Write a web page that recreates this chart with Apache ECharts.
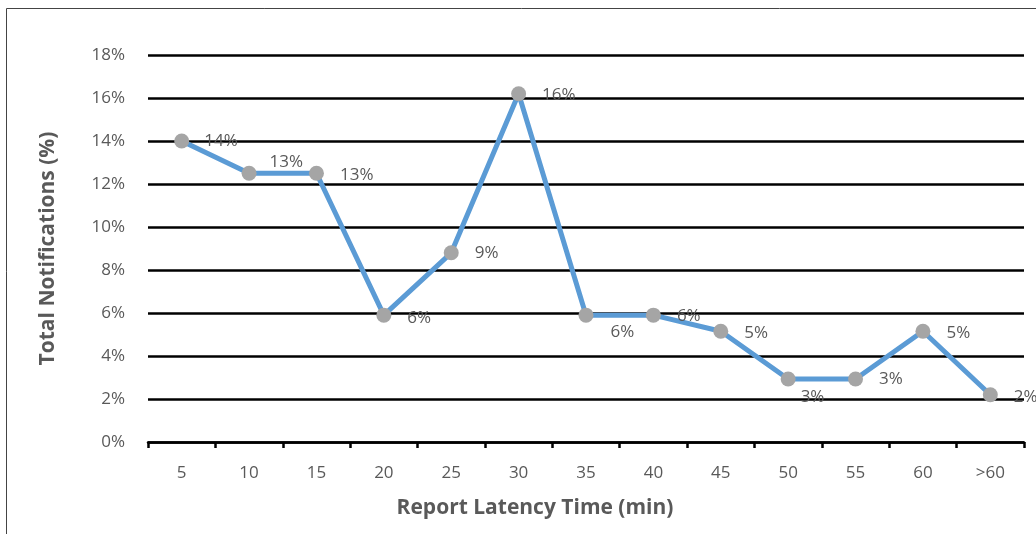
<!DOCTYPE html>
<html>
<head>
<meta charset="utf-8">
<script src="https://cdn.jsdelivr.net/npm/echarts@6/dist/echarts.min.js"></script>
<style>html,body{margin:0;padding:0;background:#fff}#c{width:1036px;height:534px}</style>
</head>
<body>
<div id="c"></div>
<script>
var categories = ['5','10','15','20','25','30','35','40','45','50','55','60','>60'];
var values = [14.0, 12.5, 12.5, 5.9, 8.8, 16.2, 5.9, 5.9, 5.15, 2.93, 2.93, 5.15, 2.2];
var yTicks = [0, 2, 4, 6, 8, 10, 12, 14, 16, 18];
// label offsets (style only)
var labelOffsets = [[15,0],[13,-11],[16,2],[16,3],[16,0],[16,1],[17,17],[16,1],[16,2],[5,18],[16,0],[16,2],[16,2]];

var chart = echarts.init(document.getElementById('c'));
var font = '"Open Sans", sans-serif';
chart.setOption({
  animation: false,
  textStyle: {fontFamily: font},
  graphic: [{type:'rect', shape:{x:6.5,y:8.5,width:1100,height:600}, style:{fill:'none', stroke:'#444', lineWidth:1}, silent:true}],
  grid: {left:148, right:12, top:55, bottom:92, containLabel:false},
  xAxis: {
    type:'category', data: categories, boundaryGap:true,
    axisLine:{show:true, lineStyle:{color:'#000', width:2.5}},
    axisTick:{show:true, length:6, lineStyle:{color:'#000', width:2.5}},
    axisLabel:{color:'#595959', fontSize:17, margin:23, fontFamily:font},
    name:'Report Latency Time (min)', nameLocation:'middle', nameGap:56,
    nameTextStyle:{color:'#595959', fontSize:21, fontWeight:'bold', fontFamily:font, padding:[0,102,0,0]}
  },
  yAxis: {
    type:'value', min:yTicks[0], max:yTicks[yTicks.length-1], interval:2,
    axisLine:{show:false}, axisTick:{show:false},
    splitLine:{show:true, lineStyle:{color:'#000', width:2.5}},
    axisLabel:{color:'#595959', fontSize:17, margin:23, formatter:'{value}%', fontFamily:font},
    name:'Total Notifications (%)', nameLocation:'middle', nameGap:89, nameRotate:90,
    nameTextStyle:{color:'#595959', fontSize:21, fontWeight:'bold', fontFamily:font}
  },
  series: [{
    type:'line',
    data: values.map(function(v,i){ return {value:v, label:{offset:labelOffsets[i]}}; }),
    symbol:'circle', symbolSize:15,
    lineStyle:{color:'#5B9BD5', width:5},
    itemStyle:{color:'#A5A5A5'},
    z:3,
    label:{show:true, position:'right', distance:0, color:'#595959', fontSize:17, fontFamily:font,
      formatter:function(p){ return Math.round(p.value)+'%'; }}
  }]
});
</script>
</body>
</html>
